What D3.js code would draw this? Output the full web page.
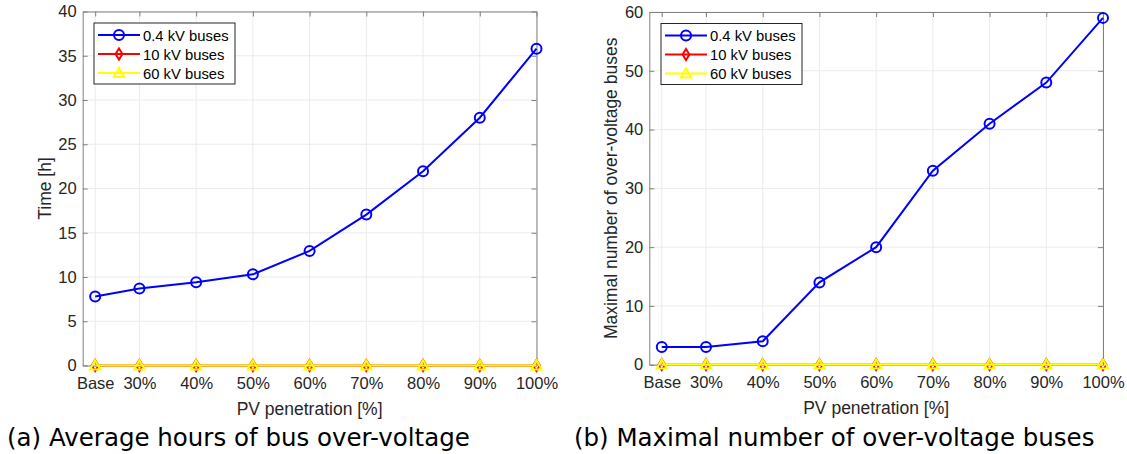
<!DOCTYPE html>
<html>
<head>
<meta charset="utf-8">
<script src="https://cdn.jsdelivr.net/npm/d3@7/dist/d3.min.js"></script>
<style>
  html, body { margin: 0; padding: 0; background: #fff; }
  svg { display: block; }
</style>
</head>
<body>
<svg id="chart" width="1127" height="454"></svg>
<script>
// PV penetration levels (Base case sits just above 20 %)
const categories = ["Base", "30%", "40%", "50%", "60%", "70%", "80%", "90%", "100%"];
const penetration = [22.2, 30, 40, 50, 60, 70, 80, 90, 100];

// (a) average hours of over-voltage per bus level
const hours04kV = [7.8, 8.7, 9.4, 10.3, 12.95, 17.05, 21.95, 28.0, 35.8];
const hours10kV = [0, 0, 0, 0, 0, 0, 0, 0, 0];
const hours60kV = [0, 0, 0, 0, 0, 0, 0, 0, 0];

// (b) maximal number of over-voltage buses per bus level
const count04kV = [3, 3, 4, 14, 20, 33, 41, 48, 59];
const count10kV = [0, 0, 0, 0, 0, 0, 0, 0, 0];
const count60kV = [0, 0, 0, 0, 0, 0, 0, 0, 0];

const seriesNames = ["0.4 kV buses", "10 kV buses", "60 kV buses"];
const seriesColors = ["#0000ff", "#ff0000", "#ffff00"];
const seriesMarkers = ["circle", "diamond", "triangle"];

const yTicksA = [0, 5, 10, 15, 20, 25, 30, 35, 40];
const yTicksB = [0, 10, 20, 30, 40, 50, 60];

const svg = d3.select("#chart");
const axisGray = "#808080";
const textGray = "#262626";
const gridGray = "#ebebeb";
const tickFont = "Liberation Sans, Arial, sans-serif";

function drawMarker(g, type, x, y, color) {
  if (type === "circle") {
    g.append("circle").attr("cx", x).attr("cy", y).attr("r", 5)
      .attr("fill", "none").attr("stroke", color).attr("stroke-width", 2);
  } else if (type === "diamond") {
    const s = 5.5;
    g.append("path")
      .attr("d", `M${x},${y - s}L${x + s * 0.62},${y}L${x},${y + s}L${x - s * 0.62},${y}Z`)
      .attr("fill", "none").attr("stroke", color).attr("stroke-width", 2);
  } else {
    const s = 5.2;
    g.append("path")
      .attr("d", `M${x},${y - s}L${x + s},${y + s * 0.75}L${x - s},${y + s * 0.75}Z`)
      .attr("fill", "none").attr("stroke", color).attr("stroke-width", 2);
  }
}

function panel(opts) {
  const { left, right, top, bottom, yMax, yTicks, series, yLabel, yLabelX, caption, captionX, legendX } = opts;
  const g = svg.append("g");

  const x = d3.scaleLinear().domain([20, 100]).range([left, right]);
  const y = d3.scaleLinear().domain([0, yMax]).range([bottom, top]);

  // grid
  g.append("g").selectAll("line").data(penetration).join("line")
    .attr("x1", d => x(d)).attr("x2", d => x(d))
    .attr("y1", top).attr("y2", bottom)
    .attr("stroke", gridGray).attr("stroke-width", 1);
  g.append("g").selectAll("line").data(yTicks).join("line")
    .attr("x1", left).attr("x2", right)
    .attr("y1", d => y(d)).attr("y2", d => y(d))
    .attr("stroke", gridGray).attr("stroke-width", 1);

  // axes (ticks point inward, box all round)
  const xAxis = d3.axisBottom(x).tickValues(penetration)
    .tickFormat((d, i) => categories[i]).tickSizeInner(-5).tickSizeOuter(0).tickPadding(12);
  const yAxis = d3.axisLeft(y).tickValues(yTicks).tickSizeInner(-5).tickSizeOuter(0).tickPadding(6);
  const xTop = d3.axisTop(x).tickValues(penetration).tickFormat("").tickSizeInner(-5).tickSizeOuter(0);
  const yRight = d3.axisRight(y).tickValues(yTicks).tickFormat("").tickSizeInner(-5).tickSizeOuter(0);

  const gx = g.append("g").attr("transform", `translate(0,${bottom})`).call(xAxis);
  const gy = g.append("g").attr("transform", `translate(${left},0)`).call(yAxis);
  const gt = g.append("g").attr("transform", `translate(0,${top})`).call(xTop);
  const gr = g.append("g").attr("transform", `translate(${right},0)`).call(yRight);
  [gx, gy, gt, gr].forEach(a => {
    a.selectAll("path.domain").attr("stroke", axisGray).attr("stroke-width", 1);
    a.selectAll(".tick line").attr("stroke", axisGray);
    a.selectAll(".tick text").attr("fill", textGray).attr("font-size", 16.5).attr("font-family", tickFont);
  });

  // axis titles
  g.append("text").attr("x", (left + right) / 2).attr("y", bottom + 49)
    .attr("text-anchor", "middle").attr("font-family", tickFont).attr("font-size", 17.5)
    .attr("fill", textGray).text("PV penetration [%]");
  g.append("text")
    .attr("transform", `translate(${yLabelX},${(top + bottom) / 2}) rotate(-90)`)
    .attr("text-anchor", "middle").attr("font-family", tickFont).attr("font-size", 17.5)
    .attr("fill", textGray).text(yLabel);

  // series lines and markers
  series.forEach((vals, si) => {
    const line = d3.line().x((d, i) => x(penetration[i])).y(d => y(d));
    g.append("path").datum(vals).attr("d", line)
      .attr("fill", "none").attr("stroke", seriesColors[si]).attr("stroke-width", 2);
    const mg = g.append("g");
    vals.forEach((v, i) => drawMarker(mg, seriesMarkers[si], x(penetration[i]), y(v), seriesColors[si]));
  });

  // legend
  const lg = g.append("g");
  lg.append("rect").attr("x", legendX).attr("y", top + 11.5).attr("width", 141).attr("height", 61)
    .attr("fill", "#fff").attr("stroke", "#262626").attr("stroke-width", 1);
  seriesNames.forEach((name, si) => {
    const ly = top + 23.5 + si * 19;
    lg.append("line").attr("x1", legendX + 4).attr("x2", legendX + 46)
      .attr("y1", ly).attr("y2", ly)
      .attr("stroke", seriesColors[si]).attr("stroke-width", 2);
    drawMarker(lg, seriesMarkers[si], legendX + 25, ly, seriesColors[si]);
    lg.append("text").attr("x", legendX + 49).attr("y", ly + 5.5)
      .attr("font-family", tickFont).attr("font-size", 14.8).attr("fill", "#000").text(name);
  });

  // caption
  svg.append("text").attr("x", captionX).attr("y", 446)
    .attr("font-family", "DejaVu Sans, Verdana, sans-serif").attr("font-size", 24.5)
    .attr("fill", "#000").text(caption);
}

panel({
  left: 82.7, right: 536.5, top: 11.5, bottom: 365.5, yMax: 40, yTicks: yTicksA,
  series: [hours04kV, hours10kV, hours60kV],
  yLabel: "Time [h]", yLabelX: 51,
  caption: "(a) Average hours of bus over-voltage", captionX: 7, legendX: 94
});

panel({
  left: 649.3, right: 1103, top: 12, bottom: 364.7, yMax: 60, yTicks: yTicksB,
  series: [count04kV, count10kV, count60kV],
  yLabel: "Maximal number of over-voltage buses", yLabelX: 617,
  caption: "(b) Maximal number of over-voltage buses", captionX: 574, legendX: 661
});
</script>
</body>
</html>
